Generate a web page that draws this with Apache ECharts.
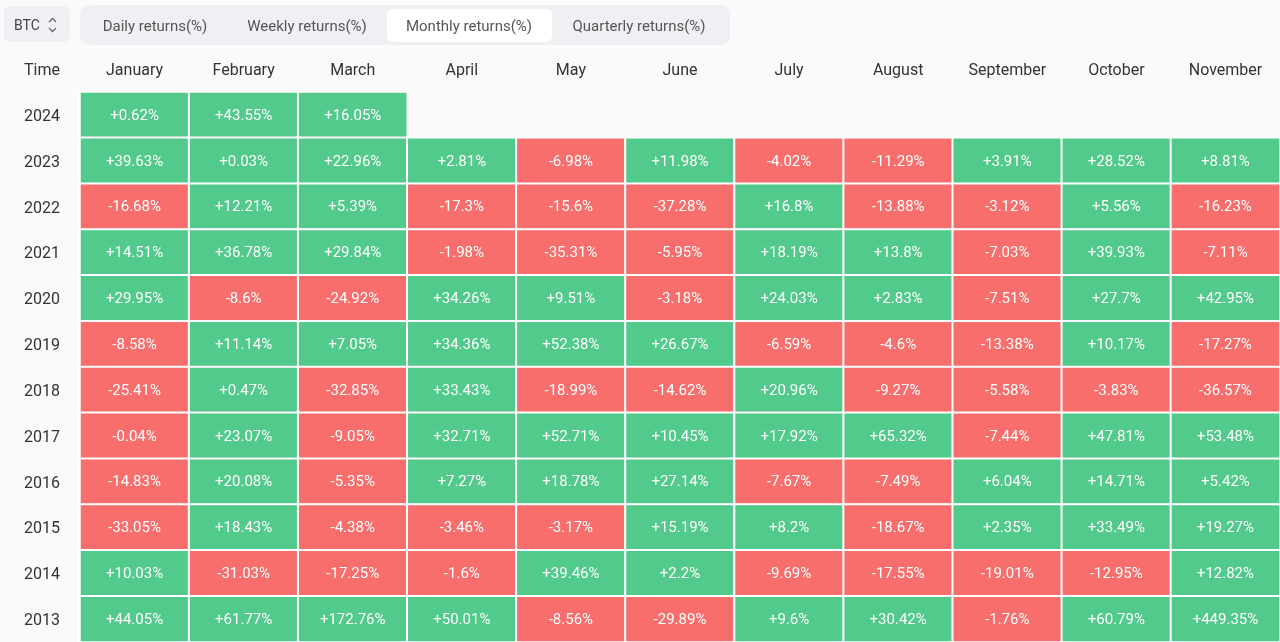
<!DOCTYPE html>
<html>
<head>
<meta charset="utf-8">
<script src="https://cdn.jsdelivr.net/npm/echarts@6/dist/echarts.min.js"></script>
<style>
  html, body { margin: 0; padding: 0; background: #fafafa; }
  #chart { width: 1280px; height: 642px; }
</style>
</head>
<body>
<div id="chart"></div>
<script>
const months = ['January','February','March','April','May','June','July','August','September','October','November'];
const years = ['2024','2023','2022','2021','2020','2019','2018','2017','2016','2015','2014','2013'];
const tabs = ['Daily returns(%)','Weekly returns(%)','Monthly returns(%)','Quarterly returns(%)'];

const r2024 = [0.62, 43.55, 16.05];
const r2023 = [39.63, 0.03, 22.96, 2.81, -6.98, 11.98, -4.02, -11.29, 3.91, 28.52, 8.81];
const r2022 = [-16.68, 12.21, 5.39, -17.3, -15.6, -37.28, 16.8, -13.88, -3.12, 5.56, -16.23];
const r2021 = [14.51, 36.78, 29.84, -1.98, -35.31, -5.95, 18.19, 13.8, -7.03, 39.93, -7.11];
const r2020 = [29.95, -8.6, -24.92, 34.26, 9.51, -3.18, 24.03, 2.83, -7.51, 27.7, 42.95];
const r2019 = [-8.58, 11.14, 7.05, 34.36, 52.38, 26.67, -6.59, -4.6, -13.38, 10.17, -17.27];
const r2018 = [-25.41, 0.47, -32.85, 33.43, -18.99, -14.62, 20.96, -9.27, -5.58, -3.83, -36.57];
const r2017 = [-0.04, 23.07, -9.05, 32.71, 52.71, 10.45, 17.92, 65.32, -7.44, 47.81, 53.48];
const r2016 = [-14.83, 20.08, -5.35, 7.27, 18.78, 27.14, -7.67, -7.49, 6.04, 14.71, 5.42];
const r2015 = [-33.05, 18.43, -4.38, -3.46, -3.17, 15.19, 8.2, -18.67, 2.35, 33.49, 19.27];
const r2014 = [10.03, -31.03, -17.25, -1.6, 39.46, 2.2, -9.69, -17.55, -19.01, -12.95, 12.82];
const r2013 = [44.05, 61.77, 172.76, 50.01, -8.56, -29.89, 9.6, 30.42, -1.76, 60.79, 449.35];

const rows = [r2024, r2023, r2022, r2021, r2020, r2019, r2018, r2017, r2016, r2015, r2014, r2013];
const data = [];
rows.forEach((row, yi) => row.forEach((v, xi) => data.push([xi, yi, v])));

const FONT = 'Roboto, "Noto Sans", sans-serif';
const chart = echarts.init(document.getElementById('chart'), null, { renderer: 'canvas' });

const tabCenters = [155, 307, 469, 639];
const graphics = [
  { type: 'rect', shape: { x: 4, y: 6, width: 66, height: 36, r: 6 }, style: { fill: '#eff1f4' } },
  { type: 'text', x: 14, y: 26, style: { text: 'BTC', font: '14px ' + FONT, fill: '#444', verticalAlign: 'middle' } },
  { type: 'polyline', shape: { points: [[49, 22], [52.5, 18.5], [56, 22]] }, style: { stroke: '#666', lineWidth: 1.3, fill: null } },
  { type: 'polyline', shape: { points: [[49, 28], [52.5, 31.5], [56, 28]] }, style: { stroke: '#666', lineWidth: 1.3, fill: null } },
  { type: 'rect', shape: { x: 80, y: 5, width: 650, height: 40, r: 9 }, style: { fill: '#eef0f3' } },
  { type: 'rect', shape: { x: 387, y: 9, width: 165, height: 33, r: 6 }, style: { fill: '#ffffff' } },
  { type: 'text', x: 42, y: 71, style: { text: 'Time', font: '16px ' + FONT, fill: '#333', align: 'center', verticalAlign: 'middle' } }
];
tabs.forEach((t, i) => graphics.push({
  type: 'text', x: tabCenters[i], y: 27,
  style: { text: t, font: '15px ' + FONT, fill: '#555', align: 'center', verticalAlign: 'middle' }
}));

chart.setOption({
  backgroundColor: '#fafafa',
  animation: false,
  grid: { left: 80, right: 0, top: 92, bottom: 0 },
  xAxis: {
    type: 'category', data: months, position: 'top',
    axisLine: { show: false }, axisTick: { show: false }, splitLine: { show: false },
    axisLabel: { color: '#333', fontSize: 16, fontFamily: FONT, margin: 13, interval: 0 }
  },
  yAxis: {
    type: 'category', data: years, inverse: true,
    axisLine: { show: false }, axisTick: { show: false }, splitLine: { show: false },
    axisLabel: {
      color: '#333', fontSize: 16, fontFamily: FONT, margin: 38, align: 'center', interval: 0,
      formatter: v => '{y|' + v + '}',
      rich: { y: { color: '#333', fontSize: 16, fontFamily: FONT, padding: [4, 0, 0, 0] } }
    }
  },
  visualMap: {
    show: false, type: 'piecewise', dimension: 2,
    pieces: [ { lt: 0, color: '#f76e6c' }, { gte: 0, color: '#51ca8b' } ]
  },
  series: [{
    type: 'heatmap', data: data,
    itemStyle: { borderColor: '#ffffff', borderWidth: 2 },
    label: {
      show: true, color: '#ffffff', fontSize: 15, fontFamily: FONT, offset: [0, 1],
      formatter: p => (p.value[2] >= 0 ? '+' : '') + p.value[2] + '%'
    },
    emphasis: { disabled: true }
  }],
  graphic: graphics
});
</script>
</body>
</html>
